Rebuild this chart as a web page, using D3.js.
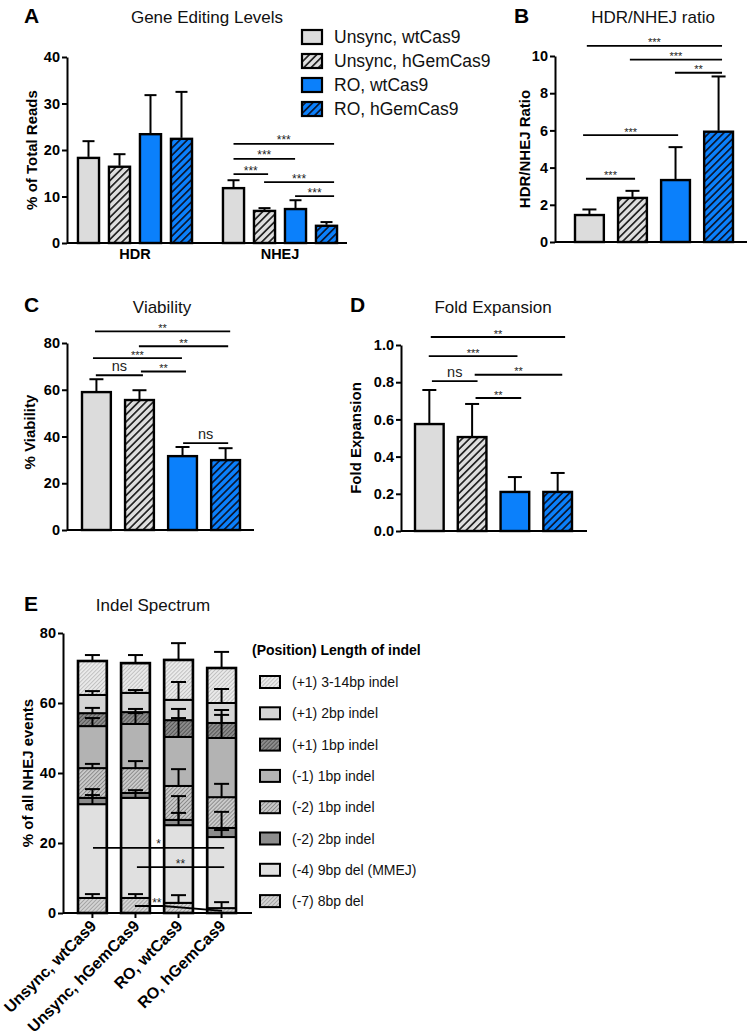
<!DOCTYPE html>
<html><head><meta charset="utf-8">
<script src="https://cdn.jsdelivr.net/npm/d3@7"></script>
<style>body{margin:0;background:#fff}svg{display:block}text{font-family:"Liberation Sans",Arial,sans-serif}</style>
</head><body><script>
// ---------------- DATA ----------------
const conditions = ["Unsync, wtCas9","Unsync, hGemCas9","RO, wtCas9","RO, hGemCas9"];
const editGroups = ["HDR","NHEJ"];
const hdrMean = [18.3,16.4,23.4,22.4];
const hdrErr  = [3.6,2.7,8.4,10.1];
const nhejMean = [11.8,6.9,7.3,3.7];
const nhejErr  = [1.7,0.6,1.9,0.8];
const ratioMean = [1.45,2.37,3.33,5.93];
const ratioErr  = [0.3,0.38,1.77,2.97];
const viabMean = [59.0,55.6,31.6,29.9];
const viabErr  = [5.5,4.2,3.9,5.1];
const foldMean = [0.575,0.505,0.21,0.21];
const foldErr  = [0.183,0.178,0.08,0.102];
const ticksA = [0,10,20,30,40];
const ticksB = [0,2,4,6,8,10];
const ticksC = [0,20,40,60,80];
const ticksD = [0,0.2,0.4,0.6,0.8,1.0];
const ticksE = [0,20,40,60,80];
// significance: [startBar, frac, endBar, frac, yValue, label]
const sigA = [[0,0.5,3,0.86,21.3,"***"],[0,0.5,2,0.48,18.1,"***"],[0,0.5,1,0.67,14.8,"***"],[1,0.48,3,0.86,13.1,"***"],[2,0.48,3,0.86,10.1,"***"]];
const sigB = [[0,0.41,3,0.62,10.54,"***"],[1,0.41,3,0.62,9.8,"***"],[2,0.48,3,0.62,9.1,"**"],[0,0.28,2,0.59,5.75,"***"],[0,0.38,1,0.59,3.4,"***"]];
const sigC = [[0,0.45,3,0.66,85,"**"],[1,0.48,3,0.59,78.6,"**"],[0,0.38,2,0.48,73.5,"***"],[0,0.48,1,0.62,66.2,"ns"],[1,0.55,2,0.62,67.8,"**"],[2,0.52,3,0.59,37.2,"ns"]];
const sigD = [[0,0.55,3,0.76,1.043,"**"],[0,0.48,2,0.59,0.94,"***"],[1,0.59,3,0.66,0.84,"**"],[0,0.59,1,0.69,0.806,"ns"],[1,0.62,2,0.72,0.715,"**"]];
const sigE = [[0,0.52,3,0.59,18.6,"*"],[1,0.55,3,0.59,13.1,"**"]];
const sigEslant = [[1,0.48,2.0],[2,-0.03,2.0],[3,0.52,0.6]];
const sigEslantLabel = [1,1.24,"**"];
const indelLayers = ["(-7) 8bp del","(-4) 9bp del (MMEJ)","(-2) 2bp indel","(-2) 1bp indel","(-1) 1bp indel","(+1) 1bp indel","(+1) 2bp indel","(+1) 3-14bp indel"];
const indelVals = [
 [4.3,4.3,2.9,1.4],
 [26.8,28.6,22.2,20.3],
 [1.8,1.4,1.5,2.6],
 [8.5,7.1,9.7,8.8],
 [12.0,12.6,14.0,16.9],
 [3.7,3.4,4.8,4.3],
 [5.2,5.5,5.8,5.7],
 [9.7,8.5,11.4,10.0]
];
const indelErr = [
 [1.1,1.1,2.2,1.7],
 [2.6,1.4,3.5,2.0],
 [2.5,0.8,6.8,4.6],
 [1.2,2.0,4.8,3.8],
 [2.3,3.1,5.4,8.0],
 [1.5,0.9,3.2,2.3],
 [1.1,0.8,5.1,4.0],
 [1.7,2.3,4.8,4.6]
];

// ---------------- SETUP ----------------
const svg = d3.select("body").append("svg").attr("width",752).attr("height",1035);
const defs = svg.append("defs");
function hatch(id,bg,fg,size,sw){
  const p=defs.append("pattern").attr("id",id).attr("patternUnits","userSpaceOnUse")
    .attr("width",size).attr("height",size).attr("patternTransform","rotate(45)");
  p.append("rect").attr("width",size).attr("height",size).attr("fill",bg);
  p.append("line").attr("x1",size/2).attr("x2",size/2).attr("y1",-1).attr("y2",size+1).attr("stroke",fg).attr("stroke-width",sw);
}
const GRAY="#dcdcdc", BLUE="#0b80fb";
hatch("gh","#dedede","#222",5.2,1.7);
hatch("bh",BLUE,"#0b1630",5.2,1.7);
hatch("e7","#d6d6d6","#a4a4a4",2.8,1);
hatch("e21","#cdcdcd","#8a8a8a",2.8,1);
hatch("ep1","#8e8e8e","#555",2.8,1);
hatch("e314","#ececec","#c0c0c0",2.8,1);
const condFill = [GRAY,"url(#gh)",BLUE,"url(#bh)"];
const layerFill = ["url(#e7)","#e0e0e0","#8c8c8c","url(#e21)","#b3b3b3","url(#ep1)","#d5d5d5","url(#e314)"];

function yAxis(g,x0,y,ticks,fmt){
  const a=g.append("g").attr("transform",`translate(${x0},0)`)
    .call(d3.axisLeft(y).tickValues(ticks).tickFormat(fmt).tickSize(5).tickSizeOuter(0).tickPadding(2));
  a.select(".domain").attr("stroke","#000").attr("stroke-width",2);
  a.selectAll(".tick line").attr("stroke","#000").attr("stroke-width",2);
  a.selectAll(".tick text").attr("fill","#000").style("font-size","14.5px").style("font-weight","bold").style("font-family",'"Liberation Sans",Arial,sans-serif');
}
function hLine(g,x1,x2,y,w){g.append("line").attr("x1",x1).attr("x2",x2).attr("y1",y).attr("y2",y).attr("stroke","#000").attr("stroke-width",w||2);}
function title(x,y,t){svg.append("text").attr("x",x).attr("y",y).attr("text-anchor","middle").style("font-size","17px").attr("fill","#111").text(t);}
function letter(x,y,t){svg.append("text").attr("x",x).attr("y",y).style("font-size","21px").style("font-weight","bold").text(t);}
function yLabel(bx,cy,t){svg.append("text").attr("transform","rotate(-90)").attr("x",-cy).attr("y",bx).attr("text-anchor","middle").style("font-size","15px").style("font-weight","bold").text(t);}
function errBar(g,cx,yTop,yCap,cw){
  g.append("line").attr("x1",cx).attr("x2",cx).attr("y1",yTop).attr("y2",yCap).attr("stroke","#000").attr("stroke-width",2);
  g.append("line").attr("x1",cx-cw/2).attr("x2",cx+cw/2).attr("y1",yCap).attr("y2",yCap).attr("stroke","#000").attr("stroke-width",2);
}
function sigMarks(g,xpos,y,list,starSize){
  list.forEach(s=>{
    const xa=xpos(s[0],s[1]), xb=xpos(s[2],s[3]), yy=y(s[4]);
    hLine(g,xa,xb,yy,1.8);
    const ns = s[5]==="ns";
    g.append("text").attr("x",(xa+xb)/2).attr("y",ns?yy-4:yy+0.5).attr("text-anchor","middle")
      .style("font-size",ns?"14.5px":(starSize||"12px")).attr("fill","#222").text(s[5]);
  });
}
function simplePanel(o){
  const g=svg.append("g");
  const y=d3.scaleLinear().domain(o.domain).range(o.yRange);
  const x=d3.scaleBand().domain(conditions).range(o.barRange).paddingInner(0.33);
  const bw=x.bandwidth();
  conditions.forEach((c,i)=>{
    g.append("rect").attr("x",x(c)).attr("y",y(o.means[i])).attr("width",bw).attr("height",y(0)-y(o.means[i]))
      .attr("fill",condFill[i]).attr("stroke","#000").attr("stroke-width",2.4);
    errBar(g,x(c)+bw/2,y(o.means[i])-1,y(o.means[i]+o.errs[i]),14);
  });
  yAxis(g,o.x0,y,o.ticks,o.fmt);
  hLine(g,o.x0,o.xEnd,y(0),2);
  sigMarks(g,(i,f)=>x(conditions[i])+f*bw,y,o.sigs,o.starSize);
}

// ---------------- PANEL A ----------------
(function(){
  const g=svg.append("g");
  const y=d3.scaleLinear().domain([0,40]).range([243,57]);
  const xo=d3.scaleBand().domain(editGroups).range([73,342]).paddingInner(0.145);
  const xi=d3.scaleBand().domain(conditions).range([0,xo.bandwidth()]).paddingInner(0.32).paddingOuter(0.16);
  const bw=xi.bandwidth();
  [[hdrMean,hdrErr],[nhejMean,nhejErr]].forEach((d,gi)=>{
    const gx=xo(editGroups[gi]);
    conditions.forEach((c,i)=>{
      const m=d[0][i], e=d[1][i];
      g.append("rect").attr("x",gx+xi(c)).attr("y",y(m)).attr("width",bw).attr("height",y(0)-y(m))
        .attr("fill",condFill[i]).attr("stroke","#000").attr("stroke-width",2.4);
      errBar(g,gx+xi(c)+bw/2,y(m)-1,y(m+e),12);
    });
  });
  yAxis(g,67,y,ticksA,d3.format("d"));
  hLine(g,67,347,y(0),2);
  const xa=g.append("g").attr("transform",`translate(0,${y(0)})`).call(d3.axisBottom(xo).tickSize(0).tickPadding(6));
  xa.select(".domain").remove();
  xa.selectAll("text").attr("fill","#000").style("font-size","14.5px").style("font-weight","bold").style("font-family",'"Liberation Sans",Arial,sans-serif');
  const nx=xo("NHEJ");
  sigMarks(g,(i,f)=>nx+xi(conditions[i])+f*bw,y,sigA);
  // legend
  conditions.forEach((c,i)=>{
    const cy=37+i*24;
    svg.append("rect").attr("x",302).attr("y",cy-7).attr("width",20).attr("height",14).attr("fill",condFill[i]).attr("stroke","#000").attr("stroke-width",2.2);
    svg.append("text").attr("x",334).attr("y",cy).attr("dy","0.36em").style("font-size","17.5px").attr("fill","#111").text(c);
  });
})();
letter(24,23,"A"); title(207,23,"Gene Editing Levels"); yLabel(37,150,"% of Total Reads");

// ---------------- PANEL B ----------------
simplePanel({domain:[0,10],yRange:[242,56],barRange:[575,733],means:ratioMean,errs:ratioErr,ticks:ticksB,fmt:d3.format("d"),x0:555,xEnd:747,sigs:sigB,starSize:"11px"});
letter(514,23,"B"); title(653,23,"HDR/NHEJ ratio"); yLabel(530,149,"HDR/NHEJ Ratio");

// ---------------- PANEL C ----------------
simplePanel({domain:[0,80],yRange:[530,343],barRange:[82,240],means:viabMean,errs:viabErr,ticks:ticksC,fmt:d3.format("d"),x0:67,xEnd:254,sigs:sigC,starSize:"11px"});
letter(24,312,"C"); title(162,313,"Viability"); yLabel(35,432,"% Viability");

// ---------------- PANEL D ----------------
simplePanel({domain:[0,1],yRange:[531,345],barRange:[415,572],means:foldMean,errs:foldErr,ticks:ticksD,fmt:d3.format(".1f"),x0:401,xEnd:587,sigs:sigD,starSize:"11px"});
letter(350,312,"D"); title(493,313,"Fold Expansion"); yLabel(361,438,"Fold Expansion");

// ---------------- PANEL E ----------------
(function(){
  const g=svg.append("g");
  const y=d3.scaleLinear().domain([0,80]).range([913,633]);
  const x=d3.scaleBand().domain(conditions).range([78,236]).paddingInner(0.33);
  const bw=x.bandwidth();
  const rows=conditions.map((c,ci)=>{const r={cond:c};indelLayers.forEach((l,li)=>r[l]=indelVals[li][ci]);return r;});
  const series=d3.stack().keys(indelLayers)(rows);
  series.forEach((s,li)=>{
    s.forEach((d,ci)=>{
      g.append("rect").attr("x",x(d.data.cond)).attr("y",y(d[1])).attr("width",bw).attr("height",y(d[0])-y(d[1]))
        .attr("fill",layerFill[li]).attr("stroke","#000").attr("stroke-width",2);
    });
  });
  conditions.forEach((c,ci)=>{
    const top=series[series.length-1][ci][1];
    g.append("rect").attr("x",x(c)).attr("y",y(top)).attr("width",bw).attr("height",y(0)-y(top))
      .attr("fill","none").attr("stroke","#000").attr("stroke-width",2.6);
  });
  series.forEach((s,li)=>{
    s.forEach((d,ci)=>{
      errBar(g,x(d.data.cond)+bw/2,y(d[1]),y(d[1]+indelErr[li][ci]),15);
    });
  });
  yAxis(g,63,y,ticksE,d3.format("d"));
  hLine(g,63,252,y(0),2);
  const xa=g.append("g").attr("transform",`translate(0,${y(0)})`).call(d3.axisBottom(x).tickSize(5).tickSizeOuter(0));
  xa.select(".domain").remove();
  xa.selectAll(".tick line").attr("stroke","#000").attr("stroke-width",2);
  xa.selectAll(".tick text").remove();
  conditions.forEach(c=>{
    g.append("text").attr("transform",`translate(${x(c)+bw/2+5},${y(0)+14}) rotate(-45)`)
      .attr("text-anchor","end").style("font-size","16px").style("font-weight","bold").text(c);
  });
  const xpos=(i,f)=>x(conditions[i])+f*bw;
  sigMarks(g,xpos,y,sigE);
  g.append("path").attr("d",d3.line()(sigEslant.map(p=>[xpos(p[0],p[1]),y(p[2])]))).attr("fill","none").attr("stroke","#000").attr("stroke-width",1.8);
  g.append("text").attr("x",xpos(sigEslantLabel[0],sigEslantLabel[1])).attr("y",y(2.0)+0.5).attr("text-anchor","middle").style("font-size","12px").attr("fill","#222").text(sigEslantLabel[2]);
  // legend
  svg.append("text").attr("x",252).attr("y",655).style("font-size","14px").style("font-weight","bold").text("(Position) Length of indel");
  indelLayers.slice().reverse().forEach((l,k)=>{
    const li=indelLayers.length-1-k;
    const cy=682+k*31.3;
    svg.append("rect").attr("x",260).attr("y",cy-6).attr("width",20).attr("height",12).attr("fill",layerFill[li]).attr("stroke","#000").attr("stroke-width",2);
    svg.append("text").attr("x",292).attr("y",cy).attr("dy","0.36em").style("font-size","14px").attr("fill","#111").text(l);
  });
})();
letter(24,611,"E"); title(153,611,"Indel Spectrum"); yLabel(33,773,"% of all NHEJ events");
</script></body></html>
